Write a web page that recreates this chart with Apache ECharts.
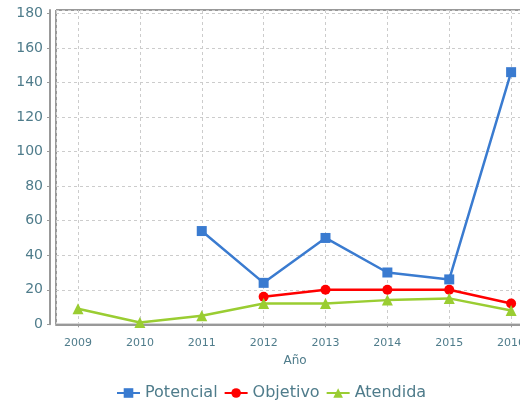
<!DOCTYPE html>
<html>
<head>
<meta charset="utf-8">
<script src="https://cdn.jsdelivr.net/npm/echarts@6/dist/echarts.min.js"></script>
<style>html,body{margin:0;padding:0;background:#fff}#c{width:520px;height:402px}</style>
</head>
<body>
<div id="c"></div>
<script>
const years = [2009, 2010, 2011, 2012, 2013, 2014, 2015, 2016];
const potencial = [null, null, 54, 24, 50, 30, 26, 146];
const objetivo = [null, null, null, 16, 20, 20, 20, 12];
const atendida = [9, 1, 5, 12, 12, 14, 15, 8];
const seriesNames = ['Potencial', 'Objetivo', 'Atendida'];
const yTicks = [0, 20, 40, 60, 80, 100, 120, 140, 160, 180];

const txt = '#4f7c8b';
const font = 'DejaVu Sans';
function pairs(vals) {
  return years.map((y, i) => [y, vals[i]]).filter(p => p[1] !== null);
}
const chart = echarts.init(document.getElementById('c'), null, {renderer: 'canvas'});
chart.setOption({
  animation: false,
  backgroundColor: '#fff',
  textStyle: {fontFamily: font},
  grid: {left: 56, top: 10, width: 478, height: 314.3, show: true, borderColor: '#333', borderWidth: 1,
    outerBoundsMode: 'none', containLabel: false},
  legend: {
    data: seriesNames, left: 111, top: 380, itemGap: 6, itemWidth: 23, itemHeight: 12,
    textStyle: {color: txt, fontSize: 16, fontFamily: font}
  },
  xAxis: {
    type: 'value', min: 2008.644, max: 2016.37, minInterval: 1, maxInterval: 1,
    offset: 6,
    name: 'Año', nameLocation: 'middle', nameGap: 25,
    nameTextStyle: {color: txt, fontSize: 12, fontFamily: font},
    axisLine: {show: true, lineStyle: {color: '#999', width: 2}},
    axisTick: {show: true, length: 3, lineStyle: {color: '#999'}},
    axisLabel: {color: txt, fontSize: 11, fontFamily: font, margin: 7, showMinLabel: false, showMaxLabel: false,
      hideOverlap: false,
      formatter: v => (years.indexOf(v) >= 0 ? String(v) : '')},
    splitLine: {show: true, lineStyle: {color: '#ccc', type: [3, 3]}}
  },
  yAxis: {
    type: 'value', min: yTicks[0], max: 182, interval: 20,
    offset: 6,
    axisLine: {show: true, lineStyle: {color: '#999', width: 2}},
    axisTick: {show: true, length: 3, lineStyle: {color: '#999'}},
    axisLabel: {color: txt, fontSize: 14, fontFamily: font, margin: 7, showMaxLabel: false,
      formatter: v => (yTicks.indexOf(v) >= 0 ? String(v) : '')},
    splitLine: {show: true, lineStyle: {color: '#ccc', type: [3, 3]}}
  },
  series: [
    {name: seriesNames[0], type: 'line', data: pairs(potencial), symbol: 'rect', symbolSize: 10,
      itemStyle: {color: '#3a7bd0'}, lineStyle: {width: 2.5, color: '#3a7bd0'}},
    {name: seriesNames[1], type: 'line', data: pairs(objetivo), symbol: 'circle', symbolSize: 10,
      itemStyle: {color: '#ff0000'}, lineStyle: {width: 2.5, color: '#ff0000'}},
    {name: seriesNames[2], type: 'line', data: pairs(atendida), symbol: 'triangle', symbolSize: 11,
      itemStyle: {color: '#9acd32'}, lineStyle: {width: 2.5, color: '#9acd32'}}
  ]
});
</script>
</body>
</html>
